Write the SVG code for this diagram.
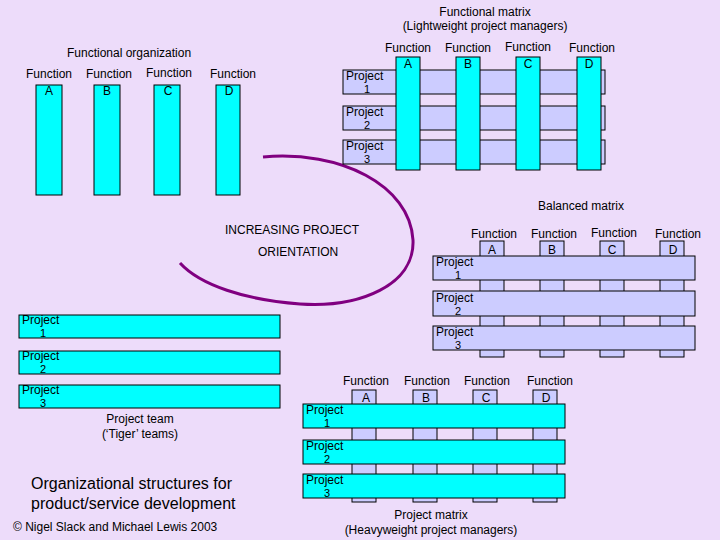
<svg xmlns="http://www.w3.org/2000/svg" width="720" height="540" viewBox="0 0 720 540">
<style>
text{font-family:"Liberation Sans",Arial,sans-serif;font-size:12px;fill:#000}
.c{fill:#00ffff;stroke:#000;stroke-width:1}
.l{fill:#ccccff;stroke:#000;stroke-width:1}
.m{text-anchor:middle}
.n{font-size:11px}
</style>
<rect width="720" height="540" fill="#eddcfa"/>
<text class="m" x="485" y="16">Functional matrix</text>
<text class="m" x="485" y="30">(Lightweight project managers)</text>
<g id="connectors">
<path d="M263,157 C340,150 410,185 413,240 C415,285 360,308 300,304 C245,300 200,285 180,263" fill="none" stroke="#800080" stroke-width="3"/>
</g>
<g id="functional-org">
<text x="67" y="57">Functional organization</text>
<rect class="c" x="36" y="85" width="26" height="110"/>
<rect class="c" x="94" y="85" width="26" height="110"/>
<rect class="c" x="154" y="85" width="26" height="110"/>
<rect class="c" x="216" y="85" width="24" height="110"/>
<text class="m" x="49" y="78">Function</text><text class="m" x="49" y="95">A</text>
<text class="m" x="109" y="78">Function</text><text class="m" x="107" y="95">B</text>
<text class="m" x="169" y="77">Function</text><text class="m" x="168" y="95">C</text>
<text class="m" x="233" y="78">Function</text><text class="m" x="229" y="95">D</text>
</g>
<g id="lightweight-matrix">
<rect class="l" x="343" y="70" width="262" height="24"/>
<rect class="l" x="343" y="106" width="262" height="24"/>
<rect class="l" x="343" y="140" width="262" height="24"/>
<rect class="c" x="396" y="57" width="24" height="113"/>
<rect class="c" x="456" y="57" width="24" height="113"/>
<rect class="c" x="516" y="57" width="24" height="113"/>
<rect class="c" x="577" y="57" width="24" height="113"/>
<text class="m" x="408" y="52">Function</text><text class="m" x="408" y="68">A</text>
<text class="m" x="468" y="52">Function</text><text class="m" x="468" y="68">B</text>
<text class="m" x="528" y="51">Function</text><text class="m" x="528" y="68">C</text>
<text class="m" x="592" y="52">Function</text><text class="m" x="589" y="68">D</text>
<text x="346" y="80">Project</text><text class="n" x="364" y="93">1</text>
<text x="346" y="116">Project</text><text class="n" x="364" y="129">2</text>
<text x="346" y="150">Project</text><text class="n" x="364" y="163">3</text>
</g>
<g id="balanced-matrix">
<text class="m" x="581" y="210">Balanced matrix</text>
<rect class="l" x="480" y="241" width="24" height="116"/>
<rect class="l" x="540" y="241" width="24" height="116"/>
<rect class="l" x="600" y="241" width="24" height="116"/>
<rect class="l" x="660" y="241" width="24" height="116"/>
<rect class="l" x="433" y="256" width="262" height="24"/>
<rect class="l" x="433" y="291" width="262" height="25"/>
<rect class="l" x="433" y="326" width="262" height="24"/>
<text class="m" x="494" y="238">Function</text><text class="m" x="492" y="254">A</text>
<text class="m" x="554" y="238">Function</text><text class="m" x="552" y="254">B</text>
<text class="m" x="614" y="237">Function</text><text class="m" x="612" y="254">C</text>
<text class="m" x="678" y="238">Function</text><text class="m" x="673" y="254">D</text>
<text x="436" y="266">Project</text><text class="n" x="455" y="279">1</text>
<text x="436" y="302">Project</text><text class="n" x="455" y="315">2</text>
<text x="436" y="336">Project</text><text class="n" x="455" y="349">3</text>
</g>
<g id="orientation-label">
<text x="225" y="234">INCREASING PROJECT</text>
<text x="258" y="256">ORIENTATION</text>
</g>
<g id="tiger-teams">
<rect class="c" x="19" y="315" width="261" height="23"/>
<rect class="c" x="19" y="351" width="261" height="23"/>
<rect class="c" x="19" y="385" width="261" height="23"/>
<text x="22" y="324">Project</text><text class="n" x="40" y="337">1</text>
<text x="22" y="360">Project</text><text class="n" x="40" y="373">2</text>
<text x="22" y="394">Project</text><text class="n" x="40" y="407">3</text>
<text class="m" x="140" y="423">Project team</text>
<text class="m" x="140" y="438">(‘Tiger’ teams)</text>
</g>
<g id="heavyweight-matrix">
<rect class="l" x="352" y="390" width="24" height="112"/>
<rect class="l" x="413" y="390" width="24" height="112"/>
<rect class="l" x="473" y="390" width="24" height="112"/>
<rect class="l" x="533" y="390" width="24" height="112"/>
<rect class="c" x="303" y="404" width="262" height="24"/>
<rect class="c" x="303" y="440" width="262" height="24"/>
<rect class="c" x="303" y="474" width="262" height="24"/>
<text class="m" x="366" y="385">Function</text><text class="m" x="366" y="402">A</text>
<text class="m" x="427" y="385">Function</text><text class="m" x="426" y="402">B</text>
<text class="m" x="487" y="385">Function</text><text class="m" x="486" y="402">C</text>
<text class="m" x="550" y="385">Function</text><text class="m" x="546" y="402">D</text>
<text x="306" y="414">Project</text><text class="n" x="324" y="427">1</text>
<text x="306" y="450">Project</text><text class="n" x="324" y="463">2</text>
<text x="306" y="484">Project</text><text class="n" x="324" y="497">3</text>
<text class="m" x="431" y="519">Project matrix</text>
<text class="m" x="431" y="534">(Heavyweight project managers)</text>
</g>
<text x="31" y="489" style="font-size:16px">Organizational structures for</text>
<text x="31" y="509" style="font-size:16px">product/service development</text>
<text x="13" y="531">© Nigel Slack and Michael Lewis 2003</text>
</svg>
